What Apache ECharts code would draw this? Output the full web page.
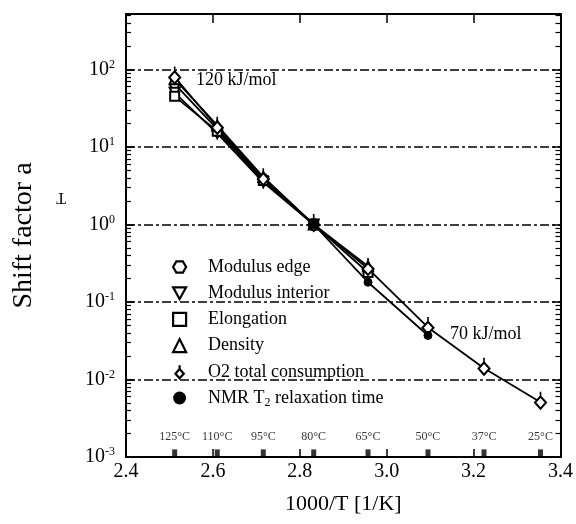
<!DOCTYPE html>
<html>
<head>
<meta charset="utf-8">
<script src="https://cdn.jsdelivr.net/npm/echarts@6/dist/echarts.min.js"></script>
<style>
  html, body { margin: 0; padding: 0; background: #fff; }
  #chart { width: 576px; height: 524px; }
</style>
</head>
<body>
<div id="chart"></div>
<script>
// temperatures and their 1000/T positions
const tempLabels = ['125°C', '110°C', '95°C', '80°C', '65°C', '50°C', '37°C', '25°C']
const invT = [2.512, 2.610, 2.716, 2.832, 2.957, 3.095, 3.224, 3.354]

// shift factors (index = temperature position)
const modulusEdge = [65, 17, 3.8, 1]
const modulusInterior = [50, 15, 3.5, 1]
const elongation = [45, 16, 3.7, 1, 0.24]
const density = [75, 19, 4.1, 1, 0.29]
const o2Consumption = [80, 18, 3.9, 1, 0.27, 0.047, 0.014, 0.0051]
const nmrT2 = [1, 0.18, 0.037] // 80, 65, 50 °C
const nmrStart = 3

const serif = 'Liberation Serif'

// symbols
const hexagon = 'path://M-5,0 L-2.5,-4.33 L2.5,-4.33 L5,0 L2.5,4.33 L-2.5,4.33 Z'
const downTriangle = 'path://M-5,-4 L5,-4 L0,5 Z'
const o2Symbol = 'path://M0,-9 L0,-5 M0,-5 L4.5,0 L0,5 L-4.5,0 Z'

function pairs(values, start) {
  return values.map((v, i) => [invT[i + (start || 0)], v])
}

const chart = echarts.init(document.getElementById('chart'))

// series
const _series = {
  type: 'line',
  symbolSize: 10,
  lineStyle: { color: '#000', width: 1.8 },
  itemStyle: { color: '#fff', borderColor: '#000', borderWidth: 2 },
  z: 3
}

const series = [
  { ..._series, name: 'Modulus edge', symbol: hexagon, data: pairs(modulusEdge) },
  { ..._series, name: 'Modulus interior', symbol: downTriangle, data: pairs(modulusInterior) },
  { ..._series, name: 'Elongation', symbol: 'rect', symbolSize: 9, data: pairs(elongation) },
  { ..._series, name: 'Density', symbol: 'triangle', data: pairs(density) },
  {
    ..._series,
    name: 'O2 total consumption',
    symbol: o2Symbol,
    symbolSize: [11, 17],
    symbolOffset: [0, -2],
    data: pairs(o2Consumption)
  },
  {
    ..._series,
    name: 'NMR T2 relaxation time',
    symbol: 'circle',
    symbolSize: 8,
    itemStyle: { color: '#000', borderColor: '#000', borderWidth: 1 },
    data: pairs(nmrT2, nmrStart)
  },
  // temperature markers along the bottom axis
  {
    type: 'scatter',
    name: 'temps',
    symbol: 'rect',
    symbolSize: [5, 7],
    itemStyle: { color: '#000' },
    data: invT.map((x, i) => ({ value: [x, 0.00113], label: { formatter: tempLabels[i] } })),
    label: {
      show: true,
      position: 'top',
      distance: 7,
      color: '#000',
      fontFamily: serif,
      fontSize: 12
    },
    z: 4
  }
]

// legend
const legendIcons = [hexagon, downTriangle, 'rect', 'triangle', o2Symbol, 'circle']
const legendData = series.slice(0, 6).map((s, i) => ({
  name: s.name,
  icon: legendIcons[i],
  itemStyle: i === 5
    ? { color: '#000', borderColor: '#000', borderWidth: 0 }
    : { color: '#fff', borderColor: '#000', borderWidth: 2.2 }
}))

// axes
const _axisLine = { show: true, lineStyle: { color: '#000', width: 2 } }

const xAxis = [
  {
    type: 'value',
    min: 2.4,
    max: 3.4,
    interval: 0.2,
    name: '1000/T [1/K]',
    nameLocation: 'middle',
    nameGap: 36,
    nameTextStyle: { fontFamily: serif, fontSize: 22, color: '#000' },
    axisLine: _axisLine,
    axisTick: { inside: true, length: 8, lineStyle: { color: '#000', width: 1.5 } },
    axisLabel: {
      color: '#000',
      fontFamily: serif,
      fontSize: 20,
      margin: 5,
      formatter: (v) => v.toFixed(1)
    },
    splitLine: { show: false }
  },
  {
    type: 'value',
    position: 'top',
    min: 2.4,
    max: 3.4,
    interval: 0.2,
    axisLine: _axisLine,
    axisTick: { inside: true, length: 9, lineStyle: { color: '#000', width: 1.5 } },
    axisLabel: { show: false },
    splitLine: { show: false }
  }
]

const _yAxis = {
  type: 'log',
  min: 0.001,
  max: 520,
  axisLine: _axisLine,
  axisTick: { inside: true, length: 8, lineStyle: { color: '#000', width: 1.5 } },
  minorTick: { show: true, splitNumber: 9, length: 5, lineStyle: { color: '#000', width: 1.2 } }
}

const yAxis = [
  {
    ..._yAxis,
    name: 'Shift factor a',
    nameLocation: 'middle',
    nameRotate: 90,
    nameGap: 88,
    nameTextStyle: { fontFamily: serif, fontSize: 28, color: '#000' },
    axisLabel: {
      color: '#000',
      margin: 11,
      showMaxLabel: false,
      formatter: (v) => '{b|10}{e|' + Math.round(Math.log10(v)) + '}',
      rich: {
        b: { fontFamily: serif, fontSize: 20, color: '#000' },
        e: { fontFamily: serif, fontSize: 12, color: '#000', padding: [0, 0, 10, 0] }
      }
    },
    splitLine: {
      show: true,
      lineStyle: { color: '#000', width: 1.5, type: [9, 3, 3, 3] }
    }
  },
  {
    ..._yAxis,
    position: 'right',
    axisLabel: { show: false },
    splitLine: { show: false }
  }
]

const option = {
  animation: false,
  backgroundColor: '#fff',
  grid: { left: 126, right: 8, top: 14, bottom: 67 },
  legend: {
    data: legendData,
    orient: 'vertical',
    left: 167,
    top: 253,
    itemWidth: 13,
    itemHeight: 13,
    itemGap: 8.2,
    textStyle: {
      fontFamily: serif,
      fontSize: 18,
      color: '#000',
      padding: [0, 0, 0, 17]
    },
    formatter: (name) => name === 'NMR T2 relaxation time'
      ? '{t|NMR T}{s|2}{t| relaxation time}'
      : name,
    selectedMode: false
  },
  graphic: [
    {
      type: 'text',
      left: 196,
      top: 71,
      style: { text: '120 kJ/mol', font: '18px "Liberation Serif"', fill: '#000' }
    },
    {
      type: 'text',
      left: 450,
      top: 325,
      style: { text: '70 kJ/mol', font: '18px "Liberation Serif"', fill: '#000' }
    },
    {
      type: 'text',
      x: 66,
      y: 205,
      rotation: Math.PI,
      style: { text: 'T', font: '16px "Liberation Serif"', fill: '#000' }
    }
  ],
  xAxis,
  yAxis,
  series
}

option.legend.textStyle.rich = {
  t: { fontFamily: serif, fontSize: 18, color: '#000' },
  s: { fontFamily: serif, fontSize: 12, color: '#000', padding: [9, 0, 0, 0] }
}

chart.setOption(option)
</script>
</body>
</html>
